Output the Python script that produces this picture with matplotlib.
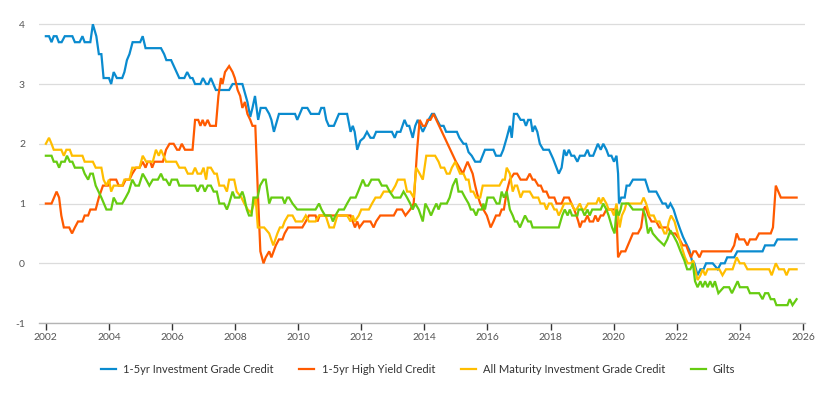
import matplotlib
matplotlib.use("Agg")
import matplotlib.pyplot as plt

# ----------------------------------------------------------------------
# DATA (decimal years, yield %)
# ----------------------------------------------------------------------

IG_1_5_YEARS = [
    2002.0, 2002.1, 2002.18, 2002.25, 2002.34, 2002.41, 2002.5, 2002.6, 2002.84, 2002.92,
    2003.07, 2003.16, 2003.23, 2003.41, 2003.49, 2003.6, 2003.68, 2003.76, 2003.83, 2004.0,
    2004.07, 2004.15, 2004.25, 2004.42, 2004.49, 2004.57, 2004.65, 2004.75, 2004.99, 2005.07,
    2005.16, 2005.65, 2005.75, 2005.82, 2005.97, 2006.23, 2006.39, 2006.48, 2006.58, 2006.65,
    2006.73, 2006.9, 2006.98, 2007.08, 2007.15, 2007.23, 2007.39, 2007.81, 2007.92, 2008.23,
    2008.39, 2008.48, 2008.55, 2008.63, 2008.73, 2008.81, 2008.97, 2009.08, 2009.15, 2009.23,
    2009.39, 2009.9, 2009.97, 2010.13, 2010.29, 2010.4, 2010.66, 2010.73, 2010.82, 2010.89,
    2010.97, 2011.13, 2011.29, 2011.55, 2011.66, 2011.73, 2011.79, 2011.87, 2011.97, 2012.08,
    2012.18, 2012.29, 2012.39, 2012.47, 2012.97, 2013.06, 2013.13, 2013.24, 2013.37, 2013.45,
    2013.52, 2013.63, 2013.71, 2013.79, 2013.87, 2013.95, 2014.13, 2014.24, 2014.31, 2014.4,
    2014.5, 2014.61, 2014.69, 2015.03, 2015.11, 2015.24, 2015.32, 2015.4, 2015.5, 2015.61,
    2015.77, 2015.92, 2016.19, 2016.27, 2016.42, 2016.5, 2016.61, 2016.71, 2016.77, 2016.84,
    2016.94, 2017.05, 2017.15, 2017.22, 2017.29, 2017.37, 2017.43, 2017.5, 2017.58, 2017.66,
    2017.77, 2017.95, 2018.08, 2018.26, 2018.35, 2018.43, 2018.5, 2018.58, 2018.66, 2018.75,
    2018.85, 2018.93, 2019.08, 2019.17, 2019.24, 2019.35, 2019.5, 2019.59, 2019.67, 2019.77,
    2019.84, 2019.93, 2020.01, 2020.09, 2020.14, 2020.17, 2020.24, 2020.35, 2020.41, 2020.5,
    2020.61, 2021.0, 2021.12, 2021.35, 2021.45, 2021.55, 2021.65, 2021.72, 2021.8, 2021.9,
    2022.0, 2022.1, 2022.2, 2022.3, 2022.4, 2022.48, 2022.56, 2022.66, 2022.75, 2022.85,
    2022.93, 2023.14, 2023.3, 2023.4, 2023.52, 2023.6, 2023.82, 2023.92, 2024.72, 2024.8,
    2025.09, 2025.19, 2025.8,
]
IG_1_5_VALUES = [
    3.8, 3.8, 3.7, 3.8, 3.8, 3.7, 3.7, 3.8, 3.8, 3.7,
    3.7, 3.8, 3.7, 3.7, 4.0, 3.8, 3.5, 3.5, 3.1, 3.1,
    3.0, 3.2, 3.1, 3.1, 3.2, 3.4, 3.5, 3.7, 3.7, 3.8,
    3.6, 3.6, 3.5, 3.4, 3.4, 3.1, 3.1, 3.2, 3.1, 3.1,
    3.0, 3.0, 3.1, 3.0, 3.0, 3.1, 2.9, 2.9, 3.0, 3.0,
    2.7, 2.45, 2.6, 2.8, 2.4, 2.6, 2.6, 2.5, 2.4, 2.2,
    2.5, 2.5, 2.4, 2.6, 2.6, 2.5, 2.5, 2.6, 2.6, 2.4,
    2.3, 2.3, 2.5, 2.5, 2.2, 2.3, 2.2, 1.9, 2.05, 2.1,
    2.2, 2.1, 2.1, 2.2, 2.2, 2.1, 2.2, 2.2, 2.4, 2.3,
    2.3, 2.1, 2.3, 2.4, 2.3, 2.2, 2.4, 2.5, 2.5, 2.4,
    2.3, 2.3, 2.2, 2.2, 2.1, 2.0, 2.0, 1.86, 1.8, 1.7,
    1.7, 1.9, 1.9, 1.8, 1.8, 1.9, 2.1, 2.3, 2.1, 2.5,
    2.5, 2.4, 2.4, 2.3, 2.4, 2.4, 2.2, 2.3, 2.2, 2.0,
    1.9, 1.9, 1.75, 1.5, 1.6, 1.9, 1.8, 1.9, 1.8, 1.8,
    1.7, 1.8, 1.8, 1.9, 1.8, 1.8, 2.0, 1.9, 2.0, 1.9,
    1.8, 1.8, 1.7, 1.8, 1.5, 1.0, 1.1, 1.1, 1.3, 1.3,
    1.4, 1.4, 1.2, 1.2, 1.1, 1.0, 1.0, 0.92, 1.0, 0.9,
    0.73, 0.58, 0.44, 0.33, 0.22, 0.05, 0.0, -0.2, -0.1, -0.1,
    0.0, 0.0, -0.1, 0.0, 0.0, 0.1, 0.1, 0.2, 0.2, 0.3,
    0.3, 0.4, 0.4,
]

HY_1_5_YEARS = [
    2002.0, 2002.18, 2002.34, 2002.42, 2002.49, 2002.57, 2002.74, 2002.83, 2002.92, 2003.02,
    2003.16, 2003.23, 2003.34, 2003.41, 2003.58, 2003.68, 2003.81, 2003.97, 2004.04, 2004.23,
    2004.31, 2004.44, 2004.53, 2004.65, 2004.74, 2004.86, 2004.97, 2005.07, 2005.16, 2005.23,
    2005.31, 2005.37, 2005.44, 2005.71, 2005.81, 2005.92, 2006.05, 2006.16, 2006.23, 2006.31,
    2006.41, 2006.65, 2006.73, 2006.83, 2006.9, 2006.97, 2007.04, 2007.13, 2007.21, 2007.39,
    2007.47, 2007.55, 2007.6, 2007.68, 2007.81, 2007.92, 2007.99, 2008.08, 2008.16, 2008.23,
    2008.31, 2008.39, 2008.48, 2008.55, 2008.64, 2008.72, 2008.8, 2008.9, 2008.97, 2009.08,
    2009.15, 2009.29, 2009.39, 2009.5, 2009.57, 2009.68, 2010.13, 2010.24, 2010.34, 2010.55,
    2010.61, 2010.68, 2011.66, 2011.73, 2011.8, 2011.87, 2011.94, 2012.08, 2012.29, 2012.39,
    2012.47, 2012.6, 2013.03, 2013.13, 2013.29, 2013.4, 2013.55, 2013.66, 2013.77, 2013.85,
    2013.95, 2014.03, 2014.1, 2014.19, 2014.29, 2015.0, 2015.11, 2015.22, 2015.29, 2015.37,
    2015.45, 2015.53, 2015.61, 2015.68, 2015.77, 2015.87, 2015.98, 2016.1, 2016.19, 2016.27,
    2016.38, 2016.45, 2016.52, 2016.61, 2016.71, 2016.84, 2016.94, 2017.05, 2017.24, 2017.34,
    2017.43, 2017.5, 2017.61, 2017.69, 2017.77, 2017.87, 2017.95, 2018.12, 2018.19, 2018.35,
    2018.43, 2018.58, 2018.66, 2018.75, 2018.82, 2018.88, 2018.93, 2019.0, 2019.08, 2019.17,
    2019.24, 2019.35, 2019.42, 2019.5, 2019.59, 2019.67, 2019.77, 2019.95, 2020.05, 2020.09,
    2020.14, 2020.24, 2020.37, 2020.45, 2020.61, 2020.77, 2020.87, 2020.95, 2021.0, 2021.1,
    2021.2, 2021.35, 2021.45, 2021.72, 2021.82, 2021.95, 2022.09, 2022.19, 2022.3, 2022.37,
    2022.45, 2022.53, 2022.61, 2022.72, 2022.8, 2023.72, 2023.82, 2023.9, 2023.98, 2024.14,
    2024.24, 2024.32, 2024.51, 2024.61, 2024.98, 2025.05, 2025.14, 2025.3, 2025.8,
]
HY_1_5_VALUES = [
    1.0, 1.0, 1.2, 1.1, 0.8, 0.6, 0.6, 0.5, 0.6, 0.7,
    0.7, 0.8, 0.8, 0.9, 0.9, 1.1, 1.3, 1.3, 1.4, 1.4,
    1.3, 1.3, 1.4, 1.4, 1.5, 1.6, 1.6, 1.7, 1.6, 1.7,
    1.7, 1.6, 1.7, 1.7, 1.9, 2.0, 2.0, 1.9, 1.9, 2.0,
    1.9, 1.9, 2.4, 2.4, 2.3, 2.4, 2.3, 2.4, 2.3, 2.3,
    2.8, 3.1, 3.0, 3.2, 3.3, 3.2, 3.1, 2.9, 2.8, 2.6,
    2.7, 2.5, 2.4, 2.3, 2.3, 1.2, 0.2, 0.0, 0.1, 0.2,
    0.1, 0.3, 0.4, 0.4, 0.5, 0.6, 0.6, 0.7, 0.8, 0.8,
    0.7, 0.8, 0.8, 0.7, 0.6, 0.7, 0.6, 0.7, 0.7, 0.6,
    0.7, 0.8, 0.8, 0.9, 0.9, 0.8, 0.9, 1.0, 1.9, 2.4,
    2.3, 2.3, 2.4, 2.4, 2.5, 1.7, 1.6, 1.5, 1.6, 1.7,
    1.6, 1.5, 1.3, 1.15, 1.0, 0.9, 0.8, 0.6, 0.7, 0.8,
    0.8, 0.9, 0.9, 1.2, 1.4, 1.5, 1.5, 1.4, 1.4, 1.5,
    1.4, 1.4, 1.3, 1.3, 1.2, 1.2, 1.1, 1.1, 1.0, 1.0,
    1.1, 1.1, 1.0, 0.9, 0.8, 0.7, 0.6, 0.7, 0.7, 0.8,
    0.7, 0.7, 0.8, 0.7, 0.8, 0.8, 0.9, 0.9, 0.9, 0.8,
    0.1, 0.2, 0.2, 0.3, 0.5, 0.5, 0.6, 0.9, 0.95, 0.8,
    0.7, 0.7, 0.6, 0.6, 0.5, 0.5, 0.4, 0.3, 0.3, 0.2,
    0.1, 0.2, 0.2, 0.1, 0.2, 0.2, 0.3, 0.5, 0.4, 0.4,
    0.3, 0.4, 0.4, 0.5, 0.5, 0.6, 1.3, 1.1, 1.1,
]

IG_ALL_YEARS = [
    2002.0, 2002.1, 2002.18, 2002.25, 2002.49, 2002.57, 2002.65, 2002.76, 2002.83, 2003.16,
    2003.23, 2003.49, 2003.58, 2003.76, 2003.83, 2003.92, 2004.0, 2004.07, 2004.15, 2004.42,
    2004.49, 2004.65, 2004.74, 2004.97, 2005.07, 2005.18, 2005.39, 2005.49, 2005.58, 2005.65,
    2005.73, 2005.81, 2006.13, 2006.23, 2006.41, 2006.5, 2006.65, 2006.73, 2006.81, 2006.92,
    2007.0, 2007.08, 2007.13, 2007.23, 2007.34, 2007.42, 2007.5, 2007.65, 2007.74, 2007.81,
    2007.97, 2008.05, 2008.2, 2008.29, 2008.4, 2008.5, 2008.6, 2008.65, 2008.72, 2008.92,
    2009.08, 2009.21, 2009.34, 2009.42, 2009.5, 2009.57, 2009.68, 2009.82, 2009.92, 2010.13,
    2010.24, 2010.34, 2010.55, 2010.66, 2010.87, 2010.99, 2011.13, 2011.24, 2011.55, 2011.66,
    2011.73, 2011.79, 2011.92, 2012.0, 2012.24, 2012.34, 2012.45, 2012.6, 2012.71, 2012.97,
    2013.08, 2013.16, 2013.37, 2013.45, 2013.55, 2013.66, 2013.74, 2013.85, 2013.95, 2014.06,
    2014.34, 2014.45, 2014.52, 2014.63, 2014.71, 2014.8, 2014.87, 2014.98, 2015.05, 2015.13,
    2015.24, 2015.32, 2015.4, 2015.47, 2015.55, 2015.64, 2015.77, 2015.85, 2016.38, 2016.48,
    2016.55, 2016.61, 2016.71, 2016.8, 2016.87, 2016.94, 2017.05, 2017.13, 2017.34, 2017.45,
    2017.61, 2017.68, 2017.8, 2017.87, 2017.95, 2018.03, 2018.12, 2018.19, 2018.26, 2018.35,
    2018.43, 2018.66, 2018.75, 2018.82, 2018.93, 2019.0, 2019.08, 2019.19, 2019.45, 2019.53,
    2019.59, 2019.66, 2019.77, 2019.84, 2019.93, 2020.01, 2020.09, 2020.19, 2020.26, 2020.35,
    2020.4, 2020.87, 2020.95, 2021.03, 2021.14, 2021.27, 2021.35, 2021.45, 2021.53, 2021.61,
    2021.67, 2021.75, 2021.82, 2021.93, 2022.03, 2022.14, 2022.26, 2022.35, 2022.45, 2022.52,
    2022.58, 2022.66, 2022.75, 2022.82, 2022.9, 2022.98, 2023.35, 2023.45, 2023.56, 2023.77,
    2023.9, 2024.0, 2024.14, 2024.24, 2024.93, 2025.01, 2025.14, 2025.24, 2025.4, 2025.48,
    2025.56, 2025.8,
]
IG_ALL_VALUES = [
    2.0, 2.1, 2.0, 1.9, 1.9, 1.8, 1.9, 1.9, 1.8, 1.8,
    1.7, 1.7, 1.6, 1.6, 1.4, 1.3, 1.4, 1.2, 1.3, 1.3,
    1.4, 1.4, 1.6, 1.6, 1.8, 1.7, 1.7, 1.9, 1.8, 1.9,
    1.8, 1.7, 1.7, 1.6, 1.6, 1.5, 1.5, 1.6, 1.5, 1.5,
    1.6, 1.4, 1.6, 1.6, 1.5, 1.5, 1.3, 1.3, 1.2, 1.4,
    1.4, 1.2, 1.1, 1.0, 0.9, 0.85, 1.0, 1.1, 0.6, 0.6,
    0.5, 0.3, 0.5, 0.6, 0.6, 0.7, 0.8, 0.8, 0.7, 0.7,
    0.8, 0.7, 0.7, 0.8, 0.8, 0.6, 0.6, 0.8, 0.8, 0.7,
    0.8, 0.7, 0.8, 0.9, 0.9, 1.0, 1.1, 1.1, 1.2, 1.2,
    1.3, 1.4, 1.4, 1.2, 1.2, 1.1, 1.6, 1.5, 1.4, 1.8,
    1.8, 1.7, 1.6, 1.6, 1.5, 1.5, 1.6, 1.7, 1.6, 1.5,
    1.5, 1.4, 1.4, 1.2, 1.2, 1.1, 1.1, 1.3, 1.3, 1.4,
    1.4, 1.6, 1.5, 1.2, 1.3, 1.3, 1.1, 1.2, 1.2, 1.1,
    1.1, 1.0, 1.0, 0.9, 1.0, 1.0, 0.9, 0.9, 0.8, 0.9,
    1.0, 1.0, 0.9, 0.9, 1.0, 0.9, 0.9, 1.0, 1.0, 1.1,
    1.0, 1.1, 1.0, 0.9, 0.9, 0.8, 1.0, 0.6, 0.8, 0.9,
    1.0, 1.0, 1.1, 1.0, 0.8, 0.8, 0.7, 0.7, 0.6, 0.5,
    0.5, 0.7, 0.8, 0.7, 0.5, 0.3, 0.1, 0.0, 0.0, 0.05,
    -0.1, -0.28, -0.2, -0.1, -0.2, -0.1, -0.1, -0.2, -0.1, -0.1,
    0.1, 0.0, 0.0, -0.1, -0.1, -0.2, 0.0, -0.1, -0.1, -0.2,
    -0.1, -0.1,
]

GILTS_YEARS = [
    2002.0, 2002.18, 2002.25, 2002.34, 2002.42, 2002.49, 2002.6, 2002.67, 2002.76, 2002.84,
    2002.92, 2003.16, 2003.23, 2003.34, 2003.41, 2003.49, 2003.58, 2003.76, 2003.92, 2004.07,
    2004.15, 2004.25, 2004.42, 2004.53, 2004.63, 2004.74, 2004.84, 2004.95, 2005.07, 2005.18,
    2005.28, 2005.39, 2005.55, 2005.65, 2005.73, 2005.81, 2005.92, 2005.99, 2006.16, 2006.23,
    2006.73, 2006.81, 2006.9, 2006.97, 2007.04, 2007.13, 2007.23, 2007.32, 2007.42, 2007.5,
    2007.65, 2007.74, 2007.81, 2007.92, 2007.99, 2008.13, 2008.23, 2008.29, 2008.37, 2008.44,
    2008.52, 2008.58, 2008.71, 2008.79, 2008.9, 2008.97, 2009.08, 2009.15, 2009.5, 2009.57,
    2009.65, 2009.71, 2009.82, 2009.97, 2010.55, 2010.66, 2010.74, 2010.85, 2011.03, 2011.1,
    2011.18, 2011.29, 2011.45, 2011.55, 2011.66, 2011.82, 2011.9, 2012.05, 2012.13, 2012.22,
    2012.32, 2012.55, 2012.65, 2012.8, 2012.9, 2013.03, 2013.24, 2013.34, 2013.45, 2013.55,
    2013.63, 2013.71, 2013.82, 2013.95, 2014.03, 2014.13, 2014.21, 2014.29, 2014.38, 2014.45,
    2014.52, 2014.71, 2014.8, 2014.9, 2015.01, 2015.08, 2015.19, 2015.29, 2015.4, 2015.47,
    2015.55, 2015.64, 2015.71, 2015.82, 2015.87, 2015.92, 2016.0, 2016.19, 2016.29, 2016.38,
    2016.45, 2016.52, 2016.61, 2016.71, 2016.8, 2016.87, 2016.94, 2017.03, 2017.11, 2017.19,
    2017.29, 2017.37, 2017.43, 2018.26, 2018.37, 2018.45, 2018.54, 2018.61, 2018.68, 2018.85,
    2018.89, 2019.0, 2019.08, 2019.17, 2019.24, 2019.32, 2019.59, 2019.67, 2019.77, 2019.84,
    2019.95, 2020.03, 2020.09, 2020.16, 2020.22, 2020.26, 2020.47, 2020.61, 2020.93, 2021.0,
    2021.09, 2021.17, 2021.24, 2021.32, 2021.4, 2021.5, 2021.6, 2021.7, 2021.8, 2021.91,
    2022.01, 2022.12, 2022.24, 2022.33, 2022.43, 2022.51, 2022.58, 2022.66, 2022.75, 2022.82,
    2022.9, 2022.98, 2023.06, 2023.14, 2023.21, 2023.32, 2023.49, 2023.66, 2023.75, 2023.84,
    2023.93, 2024.0, 2024.24, 2024.32, 2024.61, 2024.72, 2024.8, 2024.9, 2024.98, 2025.09,
    2025.16, 2025.51, 2025.58, 2025.67, 2025.8,
]
GILTS_VALUES = [
    1.8, 1.8, 1.7, 1.7, 1.6, 1.7, 1.7, 1.8, 1.7, 1.7,
    1.6, 1.6, 1.5, 1.4, 1.5, 1.5, 1.3, 1.1, 0.9, 0.9,
    1.1, 1.0, 1.0, 1.1, 1.2, 1.4, 1.3, 1.3, 1.5, 1.4,
    1.3, 1.4, 1.4, 1.5, 1.4, 1.4, 1.3, 1.4, 1.4, 1.3,
    1.3, 1.2, 1.3, 1.3, 1.2, 1.3, 1.3, 1.2, 1.2, 1.0,
    1.0, 0.9, 1.0, 1.2, 1.1, 1.1, 1.2, 1.1, 0.9, 0.8,
    0.8, 1.1, 1.1, 1.3, 1.4, 1.4, 1.0, 1.1, 1.1, 1.0,
    1.1, 1.1, 1.0, 0.9, 0.9, 1.0, 0.9, 0.8, 0.8, 0.7,
    0.8, 0.9, 0.9, 1.0, 1.1, 1.1, 1.2, 1.4, 1.3, 1.3,
    1.4, 1.4, 1.3, 1.3, 1.2, 1.1, 1.1, 1.2, 1.1, 1.0,
    0.9, 1.0, 0.9, 0.7, 1.0, 0.9, 0.8, 0.9, 1.0, 0.9,
    1.0, 1.0, 1.1, 1.3, 1.42, 1.2, 1.2, 1.1, 1.0, 0.9,
    0.9, 0.8, 0.9, 0.9, 1.0, 0.9, 1.1, 1.1, 1.0, 1.0,
    1.2, 1.1, 1.2, 0.9, 0.8, 0.7, 0.7, 0.6, 0.7, 0.8,
    0.7, 0.7, 0.6, 0.6, 0.8, 0.9, 0.8, 0.9, 0.8, 0.8,
    0.9, 0.9, 0.8, 0.9, 0.8, 0.9, 0.9, 1.0, 0.9, 0.8,
    0.6, 0.5, 0.9, 0.8, 0.9, 1.0, 1.0, 0.9, 0.9, 0.8,
    0.5, 0.6, 0.5, 0.45, 0.4, 0.35, 0.3, 0.4, 0.55, 0.45,
    0.35, 0.2, 0.05, -0.1, -0.1, 0.0, -0.3, -0.4, -0.3, -0.4,
    -0.3, -0.4, -0.3, -0.4, -0.3, -0.5, -0.4, -0.4, -0.5, -0.4,
    -0.3, -0.4, -0.4, -0.5, -0.5, -0.6, -0.5, -0.5, -0.6, -0.6,
    -0.7, -0.7, -0.6, -0.7, -0.6,
]

SERIES_LABELS = [
    "1-5yr Investment Grade Credit",
    "1-5yr High Yield Credit",
    "All Maturity Investment Grade Credit",
    "Gilts",
]
SERIES_COLORS = ["#0a8bcf", "#ff5a00", "#ffbe00", "#66cc11"]

YEAR_TICKS = list(range(2002, 2027, 2))
VALUE_TICKS = [-1, 0, 1, 2, 3, 4]

FONT = ["Lato", "DejaVu Sans"]


# ----------------------------------------------------------------------
# PLOT
# ----------------------------------------------------------------------

def make_chart(output_name):
    plt.rcParams["font.family"] = FONT

    fig = plt.figure(figsize=(8.28, 3.94), dpi=100)
    ax = fig.add_axes([0.047, 0.180, 0.925, 0.763])

    series = [
        (IG_1_5_YEARS, IG_1_5_VALUES),
        (HY_1_5_YEARS, HY_1_5_VALUES),
        (IG_ALL_YEARS, IG_ALL_VALUES),
        (GILTS_YEARS, GILTS_VALUES),
    ]
    for (years, values), label, color in zip(series, SERIES_LABELS, SERIES_COLORS):
        ax.plot(years, values, color=color, linewidth=1.6, label=label,
                solid_joinstyle="miter", zorder=3)

    ax.set_xlim(2001.78, 2026.06)
    ax.set_ylim(-1, 4.03)
    ax.set_xticks(YEAR_TICKS)
    ax.set_xticklabels([str(y) for y in YEAR_TICKS])
    ax.set_yticks(VALUE_TICKS)
    ax.set_yticklabels([str(v) for v in VALUE_TICKS])

    ax.grid(axis="y", color="#dcdcdc", linewidth=0.9, zorder=0)
    for side in ["top", "right", "left"]:
        ax.spines[side].set_visible(False)
    ax.spines["bottom"].set_color("#b4b4b4")
    ax.spines["bottom"].set_linewidth(1.0)

    ax.tick_params(axis="y", length=0, pad=10, labelsize=7.5, labelcolor="#555555")
    ax.tick_params(axis="x", length=5, width=1.0, color="#333333", pad=2,
                   labelsize=7.5, labelcolor="#555555")

    fig.legend(
        loc="center",
        bbox_to_anchor=(0.505, 0.062),
        ncol=4,
        frameon=False,
        fontsize=8,
        handlelength=1.35,
        handletextpad=0.65,
        columnspacing=2.3,
        labelcolor="#333333",
    )

    fig.savefig(output_name, dpi=100)
    plt.close(fig)


if __name__ == "__main__":
    make_chart("out.png")
